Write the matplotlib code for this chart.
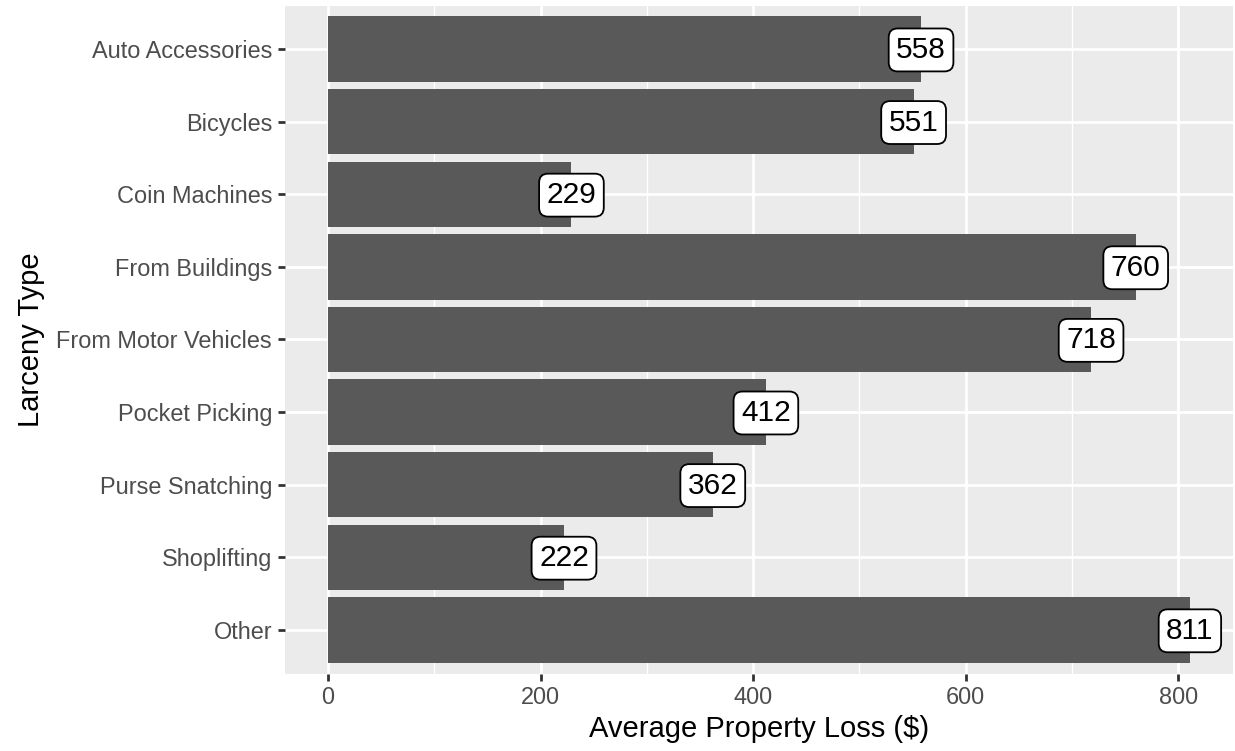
import matplotlib
matplotlib.use("Agg")
import matplotlib.pyplot as plt
import numpy as np

categories = ["Auto Accessories", "Bicycles", "Coin Machines", "From Buildings",
              "From Motor Vehicles", "Pocket Picking", "Purse Snatching",
              "Shoplifting", "Other"]
values = [558, 551, 229, 760, 718, 412, 362, 222, 811]
xticks = [0, 200, 400, 600, 800]

plt.rcParams['font.family'] = ['Liberation Sans', 'DejaVu Sans']

W, H = 1235, 751
fig = plt.figure(figsize=(W / 100, H / 100), dpi=100)
ax = fig.add_axes([285 / W, 1 - 673.5 / H, (1233 - 285) / W, (673.5 - 5.5) / H])

n = len(categories)
ypos = np.arange(n)[::-1] + 1  # first category on top

ax.set_facecolor('#EBEBEB')
ax.set_xlim(-40.55, 851.55)
ax.set_ylim(0.4, n + 0.6)

# grid
for x in [100, 300, 500, 700]:
    ax.axvline(x, color='white', lw=1.0, zorder=0.5)
for x in xticks:
    ax.axvline(x, color='white', lw=2.0, zorder=0.6)
for y in ypos:
    ax.axhline(y, color='white', lw=2.0, zorder=0.6)

ax.barh(ypos, values, height=0.9, color='#595959', zorder=2)

for y, v in zip(ypos, values):
    ax.text(v, y - 0.012, f"{v}", ha='center', va='center', fontsize=21.5, color='black', zorder=3,
            bbox=dict(boxstyle='round,pad=0.25,rounding_size=0.3', fc='white', ec='black', lw=1.3))

ax.set_xticks(xticks)
ax.set_xticklabels([str(t) for t in xticks])
ax.set_yticks(ypos)
ax.set_yticklabels(categories)
ax.tick_params(axis='both', length=5.3, width=2.0, color='#333333', labelcolor='#4D4D4D',
               labelsize=16.9, pad=4)
for s in ax.spines.values():
    s.set_visible(False)

ax.set_xlabel("Average Property Loss ($)", fontsize=21, color='black', labelpad=4)
ax.set_ylabel("Larceny Type", fontsize=21, color='black', labelpad=8)

fig.savefig("out.png", dpi=100)
